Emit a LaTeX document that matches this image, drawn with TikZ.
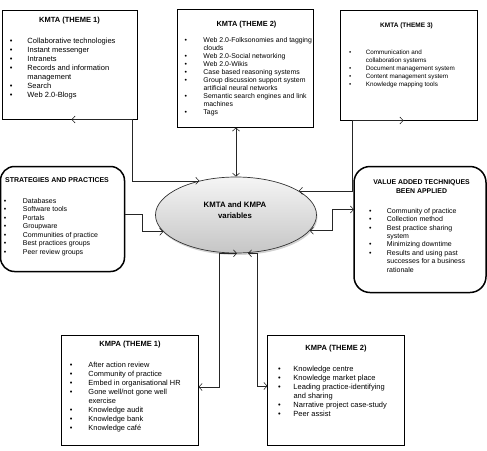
\documentclass[tikz,border=0pt]{standalone}
\usepackage{fontspec}
\setmainfont{Liberation Sans}
\usetikzlibrary{arrows.meta,shapes.geometric,shadows}
\newcommand\blist[4]{\fontsize{#1}{#2}\selectfont\begin{tabular}[t]{@{}p{#3}@{}l@{}}#4\end{tabular}}
\newcommand\bu{\textbullet}
\begin{document}
\begin{tikzpicture}[x=1pt,y=-1pt,
  >={Straight Barb[length=3.2pt,width=7pt]},
  sqbox/.style={draw=black, line width=1.6pt, inner sep=0pt, outer sep=0pt},
  rbox/.style={draw=black, line width=1.5pt, rounded corners=14pt, inner sep=0pt, outer sep=0pt},
  conn/.style={draw=black!85, line width=0.6pt},
  ttl/.style={inner sep=0pt, anchor=base},
  lst/.style={inner sep=0pt, anchor=base west},
  ellnode/.style={ellipse, draw=black!80, line width=0.7pt, top color=gray!8, bottom color=gray!45,
    drop shadow={opacity=0.35,shadow xshift=1pt,shadow yshift=-2pt},
    minimum width=161pt, minimum height=76pt, inner sep=0pt}]
\useasboundingbox (0,0) rectangle (487,450);

% boxes
\node[sqbox, minimum width=135pt, minimum height=109pt] (t1) at (70,65) {};
\node[sqbox, minimum width=136pt, minimum height=118pt] (t2) at (245.5,68.5) {};
\node[sqbox, minimum width=137pt, minimum height=110pt] (t3) at (409,65.5) {};
\node[rbox, minimum width=124pt, minimum height=105pt] (sp) at (62.5,219) {};
\node[rbox, rounded corners=16pt, minimum width=132pt, minimum height=126pt] (va) at (420,229.5) {};
\node[sqbox, minimum width=137pt, minimum height=110pt] (p1) at (130,390.5) {};
\node[sqbox, minimum width=137pt, minimum height=110pt] (p2) at (336,390.5) {};
\node[ellnode] (ev) at (236,215) {};
\node[inner sep=0pt, align=center, font=\bfseries\fontsize{7.8}{11}\selectfont] (evt) at (235,210.5) {KMTA and KMPA\\variables};

% titles
\node[ttl] (t1h) at (69.5,22) {\bfseries\fontsize{7.5}{9}\selectfont KMTA (THEME 1)};
\node[ttl] (t2h) at (246.5,26) {\bfseries\fontsize{7.4}{9}\selectfont KMTA (THEME 2)};
\node[ttl] (t3h) at (406.5,27.3) {\bfseries\fontsize{6.5}{8}\selectfont KMTA (THEME 3)};
\node[inner sep=0pt, anchor=base west] (sph) at (5,182.6) {\bfseries\fontsize{7.0}{9}\selectfont STRATEGIES AND PRACTICES};
\node[ttl] (vah) at (421.5,184.9) {\bfseries\fontsize{6.9}{8.7}\selectfont\begin{tabular}[t]{@{}c@{}}VALUE ADDED TECHNIQUES\\BEEN APPLIED\end{tabular}};
\node[ttl] (p1h) at (130,346.7) {\bfseries\fontsize{7.5}{9}\selectfont KMPA (THEME 1)};
\node[ttl] (p2h) at (336,350.4) {\bfseries\fontsize{7.5}{9}\selectfont KMPA (THEME 2)};

% lists
\node[lst] (t1l) at (9.7,43) {\blist{7.5}{9}{17.6pt}{%
\bu & Collaborative technologies\\
\bu & Instant messenger\\
\bu & Intranets\\
\bu & Records and information\\
    & management\\
\bu & Search\\
\bu & Web 2.0-Blogs}};
\node[lst] (t2l) at (184.5,42.6) {\blist{6.9}{8}{18.8pt}{%
\bu & Web 2.0-Folksonomies and tagging\\
    & clouds\\
\bu & Web 2.0-Social networking\\
\bu & Web 2.0-Wikis\\
\bu & Case based reasoning systems\\
\bu & Group discussion support system\\
    & artificial neural networks\\
\bu & Semantic search engines and link\\
    & machines\\
\bu & Tags}};
\node[lst] (t3l) at (349,54.2) {\blist{6.3}{8.1}{16.7pt}{%
\bu & Communication and\\
    & collaboration systems\\
\bu & Document management system\\
\bu & Content management system\\
\bu & Knowledge mapping tools}};
\node[lst] (spl) at (3.8,203) {\blist{7.0}{8.57}{18.9pt}{%
\bu & Databases\\
\bu & Software tools\\
\bu & Portals\\
\bu & Groupware\\
\bu & Communities of practice\\
\bu & Best practices groups\\
\bu & Peer review groups}};
\node[lst] (val) at (368.8,213.3) {\blist{7.0}{8.4}{17.9pt}{%
\bu & Community of practice\\
\bu & Collection method\\
\bu & Best practice sharing\\
    & system\\
\bu & Minimizing downtime\\
\bu & Results and using past\\
    & successes for a business\\
    & rationale}};
\node[lst] (p1l) at (69.7,367.7) {\blist{7.4}{9}{18.6pt}{%
\bu & After action review\\
\bu & Community of practice\\
\bu & Embed in organisational HR\\
\bu & Gone well/not gone well\\
    & exercise\\
\bu & Knowledge audit\\
\bu & Knowledge bank\\
\bu & Knowledge café}};
\node[lst] (p2l) at (278,371) {\blist{7.5}{9}{15.3pt}{%
\bu & Knowledge centre\\
\bu & Knowledge market place\\
\bu & Leading practice-identifying\\
    & and sharing\\
\bu & Narrative project case-study\\
\bu & Peer assist}};

% connectors
\draw[conn,<->] ([xshift=69pt]t1.south west) -- ([xshift=-5pt]t1.south east) |- (ev.137);
\draw[conn,<->] (ev.north |- t2.south) -- (ev.north);
\draw[conn,<->] ([xshift=63pt]t3.south west) -- ([xshift=12pt]t3.south west) |- (ev.21);
\draw[conn,->] ([yshift=5pt]sp.east) -- ++(18pt,0) |- (ev.193);
\draw[conn,<->] (ev.348) -- ++(23pt,0) |- ([yshift=20pt]va.west);
\draw[conn,<->] ([xshift=1pt]ev.south) -- ++(-18pt,0) |- ([yshift=3.5pt]p1.east);
\draw[conn,<->] ([xshift=12pt]ev.south) -- ++(9pt,0) |- ([yshift=4.5pt]p2.west);
\end{tikzpicture}
\end{document}
